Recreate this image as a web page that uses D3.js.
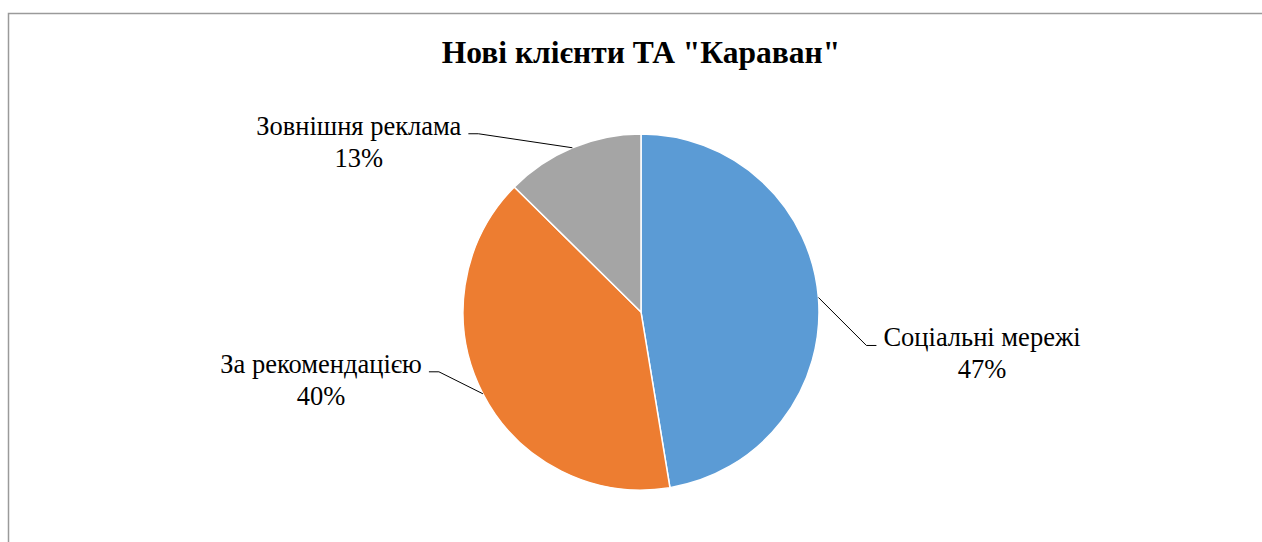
<!DOCTYPE html>
<html>
<head>
<meta charset="utf-8">
<script src="https://cdn.jsdelivr.net/npm/d3@7"></script>
<style>
  body { margin: 0; background: #fff; }
</style>
</head>
<body>
<div id="chart"></div>
<script>
// data
var categories = ["Соціальні мережі", "За рекомендацією", "Зовнішня реклама"];
var values = [47.4, 40.0, 12.6];
var colors = ["#5b9bd5", "#ed7d31", "#a5a5a5"];

// label elbow offsets from the slice edge point (layout only)
var elbowDx = [48, -44, -94];
var elbowDy = [48, -22, -14];

var svgWidth = 1262;
var svgHeight = 542;
var cx = 641, cy = 312, radius = 178;
var serif = "'Liberation Serif', 'Times New Roman', Times, serif";

var svg = d3.select("#chart")
    .append("svg")
    .attr("width", svgWidth)
    .attr("height", svgHeight);

// chart frame (top and left edges visible)
svg.append("path")
    .attr("d", "M8.5,542 L8.5,13.5 L1262,13.5")
    .attr("fill", "none")
    .attr("stroke", "#9a9a9a")
    .attr("stroke-width", 1.5);

svg.append("text")
    .attr("x", cx)
    .attr("y", 63)
    .attr("text-anchor", "middle")
    .attr("font-family", serif)
    .attr("font-size", 31.5)
    .attr("font-weight", "bold")
    .text('Нові клієнти ТА "Караван"');

var data = categories.map((c, i) => ({ name: c, value: values[i], color: colors[i], i: i }));
var total = d3.sum(values);

var pie = d3.pie().sort(null).value(d => d.value);
var arc = d3.arc().innerRadius(0).outerRadius(radius);
var edge = d3.arc().innerRadius(radius).outerRadius(radius);

var g = svg.append("g").attr("transform", `translate(${cx}, ${cy})`);

var arcs = pie(data);

g.selectAll("path.slice")
    .data(arcs)
    .enter()
    .append("path")
    .attr("class", "slice")
    .attr("d", arc)
    .attr("fill", d => d.data.color)
    .attr("stroke", "#fff")
    .attr("stroke-width", 1.5);

// labels with leader lines
arcs.forEach(function (d) {
    var p = edge.centroid(d);
    var i = d.data.i;
    var ex = p[0] + elbowDx[i], ey = p[1] + elbowDy[i];
    var right = ex > 0;
    var hx = ex + (right ? 10 : -10);

    g.append("polyline")
        .attr("points", [p, [ex, ey], [hx, ey]].map(q => q.join(",")).join(" "))
        .attr("fill", "none")
        .attr("stroke", "#000")
        .attr("stroke-width", 1);

    var lbl = g.append("g")
        .attr("font-family", serif)
        .attr("font-size", 26.5)
        .attr("text-anchor", "middle");
    var t1 = lbl.append("text")
        .attr("y", ey + 1)
        .text(d.data.name);
    var w = t1.node().getComputedTextLength();
    var mid = right ? hx + 7 + w / 2 : hx - 7 - w / 2;
    t1.attr("x", mid);
    lbl.append("text")
        .attr("x", mid)
        .attr("y", ey + 33)
        .text(Math.round(d.data.value / total * 100) + "%");
});
</script>
</body>
</html>
